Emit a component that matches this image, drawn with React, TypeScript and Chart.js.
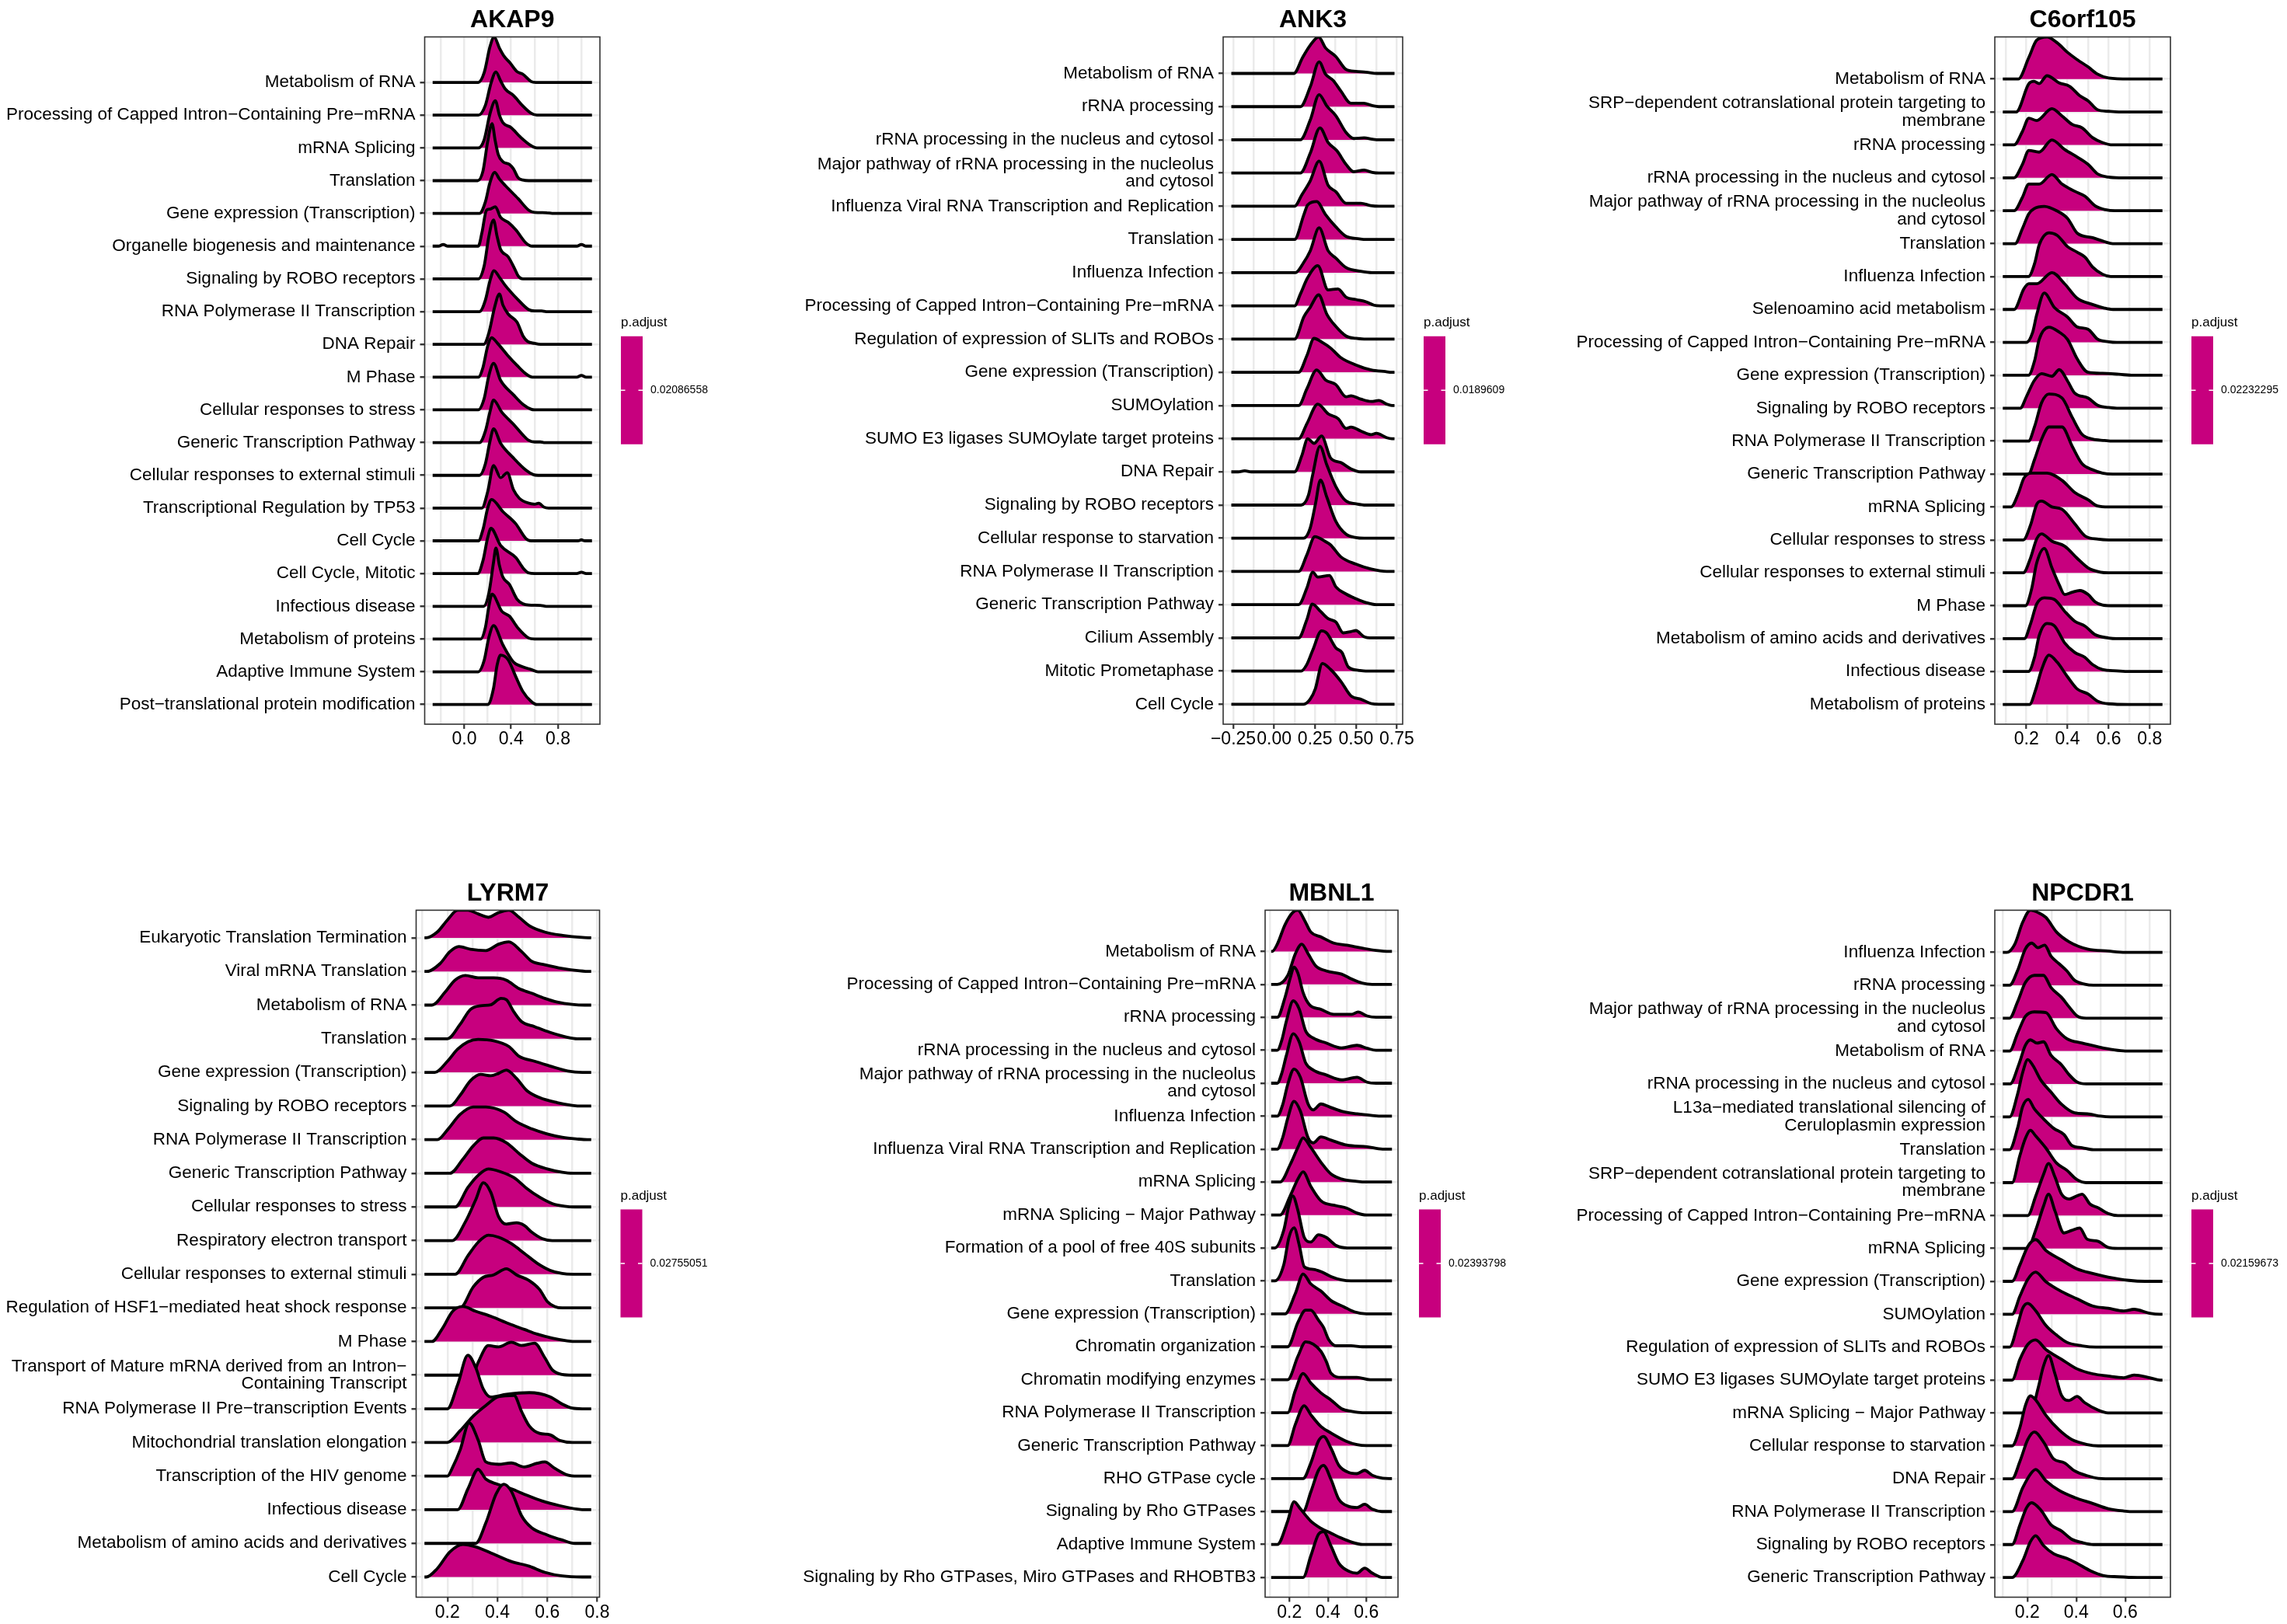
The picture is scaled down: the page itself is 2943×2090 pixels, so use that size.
import React, { useEffect, useRef } from "react";
import { Chart, registerables } from "chart.js";
Chart.register(...registerables);

const FILL = "#C7007E";
const FONT = "'Liberation Sans', Arial, Helvetica, sans-serif";

// ================= AKAP9 =================
const AKAP9_labels = [
  "Metabolism of RNA",
  "Processing of Capped Intron−Containing Pre−mRNA",
  "mRNA Splicing",
  "Translation",
  "Gene expression (Transcription)",
  "Organelle biogenesis and maintenance",
  "Signaling by ROBO receptors",
  "RNA Polymerase II Transcription",
  "DNA Repair",
  "M Phase",
  "Cellular responses to stress",
  "Generic Transcription Pathway",
  "Cellular responses to external stimuli",
  "Transcriptional Regulation by TP53",
  "Cell Cycle",
  "Cell Cycle, Mitotic",
  "Infectious disease",
  "Metabolism of proteins",
  "Adaptive Immune System",
  "Post−translational protein modification",
];
const AKAP9_range = [-0.27, 1.09];
const AKAP9_xBreaks = [-0.2, 0, 0.2, 0.4, 0.6, 0.8, 1.0];
const AKAP9_xTicks = [0, 0.4, 0.8];
const AKAP9_xTickLabels = ["0.0", "0.4", "0.8"];
const AKAP9_padj = "0.02086558";
const AKAP9_ridges = [
  [[0.12,0],[0.17,0.3],[0.22,1.1],[0.255,1.39],[0.3,1.05],[0.34,0.8],[0.39,0.6],[0.45,0.33],[0.5,0.25],[0.57,0.03],[0.61,0]],
  [[0.12,0],[0.18,0.3],[0.23,1.0],[0.27,1.32],[0.31,1.05],[0.35,0.8],[0.42,0.6],[0.5,0.28],[0.57,0.06],[0.62,0]],
  [[0.12,0],[0.17,0.25],[0.22,1.05],[0.265,1.44],[0.3,1.0],[0.33,0.77],[0.4,0.62],[0.48,0.33],[0.57,0.07],[0.62,0]],
  [[0.115,0],[0.16,0.3],[0.2,1.2],[0.237,1.74],[0.265,1.2],[0.29,0.8],[0.33,0.58],[0.385,0.5],[0.42,0.36],[0.46,0.09],[0.5,0.02],[0.55,0]],
  [[0.13,0],[0.18,0.35],[0.22,0.95],[0.26,1.25],[0.3,1.05],[0.35,0.85],[0.46,0.45],[0.55,0.1],[0.6,0.03],[0.7,0.02],[0.75,0]],
  [[-0.22,0],[-0.18,0.05],[-0.14,0],[0.12,0],[0.15,0.4],[0.19,1.1],[0.22,1.13],[0.265,1.2],[0.31,0.88],[0.374,0.73],[0.44,0.5],[0.526,0.1],[0.58,0],[0.96,0],[1.0,0.05],[1.04,0]],
  [[0.12,0],[0.17,0.4],[0.21,1.3],[0.25,1.8],[0.28,1.3],[0.31,0.9],[0.374,0.68],[0.43,0.31],[0.46,0.09],[0.5,0]],
  [[0.13,0],[0.18,0.35],[0.22,0.95],[0.254,1.25],[0.3,1.05],[0.35,0.8],[0.46,0.36],[0.55,0.06],[0.6,0.02],[0.66,0.02],[0.7,0]],
  [[0.165,0],[0.21,0.35],[0.26,1.15],[0.3,1.54],[0.33,1.2],[0.374,0.93],[0.45,0.68],[0.504,0.24],[0.54,0.09],[0.6,0.03],[0.65,0]],
  [[0.12,0],[0.16,0.3],[0.2,0.95],[0.233,1.2],[0.287,1.02],[0.374,0.65],[0.45,0.36],[0.526,0.1],[0.58,0],[0.96,0],[1.0,0.05],[1.04,0]],
  [[0.12,0],[0.17,0.35],[0.21,1.05],[0.25,1.42],[0.31,0.9],[0.42,0.46],[0.504,0.16],[0.57,0.02],[0.6,0]],
  [[0.13,0],[0.18,0.35],[0.22,0.95],[0.25,1.3],[0.32,0.93],[0.42,0.56],[0.504,0.22],[0.55,0.07],[0.6,0.02],[0.65,0.02],[0.68,0]],
  [[0.13,0],[0.18,0.35],[0.22,1.05],[0.25,1.42],[0.31,0.98],[0.42,0.53],[0.526,0.16],[0.59,0.02],[0.63,0]],
  [[0.15,0],[0.2,0.5],[0.25,1.3],[0.31,0.93],[0.367,1.08],[0.42,0.56],[0.47,0.3],[0.55,0.15],[0.6,0.12],[0.635,0.15],[0.68,0.03],[0.72,0]],
  [[0.12,0],[0.16,0.35],[0.2,1.0],[0.233,1.26],[0.33,0.89],[0.44,0.52],[0.526,0.07],[0.57,0],[0.97,0],[1.0,0.03],[1.03,0]],
  [[0.115,0],[0.16,0.4],[0.2,1.1],[0.228,1.38],[0.31,0.86],[0.44,0.49],[0.504,0.16],[0.55,0.02],[0.6,0],[0.96,0],[1.0,0.04],[1.04,0]],
  [[0.165,0],[0.21,0.4],[0.25,1.35],[0.27,1.78],[0.3,1.25],[0.33,0.89],[0.385,0.67],[0.45,0.22],[0.5,0.08],[0.55,0.04],[0.65,0.03],[0.7,0]],
  [[0.14,0],[0.18,0.35],[0.21,1.0],[0.237,1.37],[0.32,0.85],[0.385,0.7],[0.46,0.33],[0.55,0.03],[0.6,0]],
  [[0.12,0],[0.17,0.35],[0.21,1.05],[0.25,1.41],[0.33,0.82],[0.42,0.3],[0.5,0.15],[0.57,0.07],[0.63,0]],
  [[0.2,0],[0.25,0.5],[0.28,1.2],[0.31,1.51],[0.374,1.37],[0.44,0.85],[0.5,0.4],[0.57,0.1],[0.62,0]],
];

// ================= ANK3 =================
const ANK3_labels = [
  "Metabolism of RNA",
  "rRNA processing",
  "rRNA processing in the nucleus and cytosol",
  "Major pathway of rRNA processing in the nucleolus\nand cytosol",
  "Influenza Viral RNA Transcription and Replication",
  "Translation",
  "Influenza Infection",
  "Processing of Capped Intron−Containing Pre−mRNA",
  "Regulation of expression of SLITs and ROBOs",
  "Gene expression (Transcription)",
  "SUMOylation",
  "SUMO E3 ligases SUMOylate target proteins",
  "DNA Repair",
  "Signaling by ROBO receptors",
  "Cellular response to starvation",
  "RNA Polymerase II Transcription",
  "Generic Transcription Pathway",
  "Cilium Assembly",
  "Mitotic Prometaphase",
  "Cell Cycle",
];
const ANK3_range = [-0.262, 0.736];
const ANK3_xBreaks = [-0.25, -0.125, 0, 0.125, 0.25, 0.375, 0.5, 0.625, 0.75];
const ANK3_xTicks = [-0.25, 0, 0.25, 0.5, 0.75];
const ANK3_xTickLabels = ["−0.25", "0.00", "0.25", "0.50", "0.75"];
const ANK3_padj = "0.0189609";
const ANK3_ridges = [
  [[0.12,0],[0.174,0.48],[0.221,0.85],[0.272,1.1],[0.314,0.77],[0.377,0.51],[0.44,0.12],[0.5,0.06],[0.56,0.04],[0.63,0]],
  [[0.16,0],[0.221,0.6],[0.275,1.35],[0.314,0.98],[0.361,0.79],[0.408,0.47],[0.47,0.1],[0.548,0.1],[0.6,0.03],[0.64,0]],
  [[0.16,0],[0.221,0.6],[0.275,1.36],[0.322,1.02],[0.377,0.73],[0.44,0.22],[0.486,0.04],[0.55,0.06],[0.6,0.02],[0.64,0]],
  [[0.16,0],[0.221,0.6],[0.28,1.36],[0.33,0.92],[0.384,0.67],[0.44,0.26],[0.486,0.04],[0.55,0.09],[0.6,0.02],[0.64,0]],
  [[0.125,0],[0.17,0.35],[0.221,0.77],[0.275,1.36],[0.33,0.63],[0.377,0.44],[0.44,0.09],[0.53,0.09],[0.59,0.02],[0.64,0]],
  [[0.125,0],[0.182,0.75],[0.205,1.04],[0.26,1.14],[0.314,0.75],[0.377,0.38],[0.44,0.09],[0.52,0.02],[0.56,0]],
  [[0.13,0],[0.18,0.3],[0.221,0.66],[0.275,1.35],[0.33,0.66],[0.377,0.44],[0.44,0.15],[0.53,0.04],[0.6,0]],
  [[0.125,0],[0.16,0.35],[0.205,0.85],[0.267,1.21],[0.33,0.48],[0.39,0.51],[0.44,0.26],[0.5,0.19],[0.563,0.12],[0.61,0.02],[0.65,0]],
  [[0.125,0],[0.182,0.67],[0.221,0.96],[0.272,1.33],[0.322,0.75],[0.377,0.38],[0.44,0.09],[0.5,0.02],[0.55,0]],
  [[0.15,0],[0.2,0.5],[0.244,1.02],[0.3,0.88],[0.345,0.73],[0.408,0.44],[0.5,0.22],[0.594,0.07],[0.68,0.02],[0.72,0]],
  [[0.15,0],[0.2,0.5],[0.26,1.07],[0.314,0.77],[0.377,0.63],[0.44,0.26],[0.47,0.29],[0.53,0.19],[0.594,0.12],[0.64,0.15],[0.688,0.04],[0.72,0]],
  [[0.15,0],[0.2,0.45],[0.267,1.04],[0.33,0.75],[0.392,0.6],[0.44,0.31],[0.47,0.35],[0.53,0.23],[0.594,0.12],[0.625,0.16],[0.688,0.03],[0.72,0]],
  [[-0.22,0],[-0.18,0.03],[-0.14,0],[0.125,0],[0.17,0.5],[0.205,1.0],[0.244,0.86],[0.29,1.08],[0.345,0.42],[0.408,0.28],[0.47,0.09],[0.53,0]],
  [[0.165,0],[0.21,0.3],[0.236,0.92],[0.28,1.77],[0.322,1.21],[0.377,0.56],[0.44,0.12],[0.5,0.04],[0.56,0]],
  [[0.18,0],[0.22,0.3],[0.252,1.02],[0.283,1.75],[0.322,1.24],[0.377,0.51],[0.44,0.12],[0.5,0.02],[0.55,0]],
  [[0.15,0],[0.2,0.5],[0.249,1.05],[0.314,0.9],[0.345,0.8],[0.408,0.44],[0.5,0.22],[0.594,0.07],[0.688,0]],
  [[0.15,0],[0.2,0.5],[0.236,0.98],[0.267,0.83],[0.338,0.88],[0.377,0.54],[0.44,0.32],[0.5,0.18],[0.563,0.06],[0.625,0]],
  [[0.15,0],[0.2,0.55],[0.233,1.02],[0.283,0.8],[0.33,0.58],[0.377,0.48],[0.423,0.15],[0.47,0.19],[0.5,0.22],[0.548,0.04],[0.6,0]],
  [[0.165,0],[0.2,0.2],[0.236,0.63],[0.29,1.21],[0.322,1.14],[0.377,0.7],[0.415,0.56],[0.454,0.12],[0.52,0.02],[0.56,0]],
  [[0.18,0],[0.22,0.15],[0.252,0.47],[0.295,1.23],[0.345,1.05],[0.408,0.69],[0.47,0.25],[0.532,0.15],[0.594,0.02],[0.64,0]],
];

// ================= C6orf105 =================
const C6_labels = [
  "Metabolism of RNA",
  "SRP−dependent cotranslational protein targeting to\nmembrane",
  "rRNA processing",
  "rRNA processing in the nucleus and cytosol",
  "Major pathway of rRNA processing in the nucleolus\nand cytosol",
  "Translation",
  "Influenza Infection",
  "Selenoamino acid metabolism",
  "Processing of Capped Intron−Containing Pre−mRNA",
  "Gene expression (Transcription)",
  "Signaling by ROBO receptors",
  "RNA Polymerase II Transcription",
  "Generic Transcription Pathway",
  "mRNA Splicing",
  "Cellular responses to stress",
  "Cellular responses to external stimuli",
  "M Phase",
  "Metabolism of amino acids and derivatives",
  "Infectious disease",
  "Metabolism of proteins",
];
const C6_range = [0.085, 0.862];
const C6_xBreaks = [0.1, 0.2, 0.3, 0.4, 0.5, 0.6, 0.7, 0.8];
const C6_xTicks = [0.2, 0.4, 0.6, 0.8];
const C6_xTickLabels = ["0.2", "0.4", "0.6", "0.8"];
const C6_padj = "0.02232295";
const C6_ridges = [
  [[0.16,0],[0.212,0.66],[0.25,1.18],[0.3,1.28],[0.35,1.1],[0.4,0.81],[0.447,0.59],[0.5,0.37],[0.546,0.15],[0.6,0.03],[0.7,0]],
  [[0.15,0],[0.212,0.86],[0.237,0.93],[0.262,0.86],[0.3,1.1],[0.36,0.88],[0.41,0.78],[0.46,0.49],[0.5,0.34],[0.546,0.07],[0.6,0.02],[0.65,0]],
  [[0.14,0],[0.18,0.4],[0.212,0.81],[0.25,0.74],[0.324,1.1],[0.373,0.88],[0.423,0.62],[0.47,0.52],[0.522,0.22],[0.57,0.07],[0.62,0]],
  [[0.14,0],[0.18,0.4],[0.212,0.83],[0.262,0.78],[0.324,1.15],[0.386,0.86],[0.447,0.63],[0.5,0.41],[0.546,0.12],[0.6,0.02],[0.65,0]],
  [[0.14,0],[0.18,0.4],[0.212,0.81],[0.262,0.81],[0.324,1.1],[0.373,0.81],[0.435,0.59],[0.485,0.44],[0.534,0.15],[0.585,0.03],[0.63,0]],
  [[0.145,0],[0.18,0.45],[0.212,0.91],[0.237,1.06],[0.287,1.13],[0.35,0.99],[0.4,0.77],[0.447,0.32],[0.522,0.18],[0.58,0.06],[0.62,0]],
  [[0.21,0],[0.24,0.4],[0.262,0.96],[0.31,1.33],[0.35,1.25],[0.4,0.91],[0.447,0.74],[0.485,0.59],[0.522,0.29],[0.57,0.07],[0.61,0]],
  [[0.14,0],[0.188,0.63],[0.212,0.78],[0.25,0.78],[0.324,1.12],[0.386,0.78],[0.447,0.34],[0.522,0.15],[0.58,0.04],[0.62,0]],
  [[0.2,0],[0.23,0.3],[0.25,0.84],[0.287,1.5],[0.336,1.06],[0.4,0.77],[0.447,0.47],[0.5,0.4],[0.546,0.1],[0.6,0.02],[0.64,0]],
  [[0.21,0],[0.24,0.45],[0.262,1.09],[0.31,1.46],[0.36,1.31],[0.4,1.09],[0.447,0.5],[0.5,0.09],[0.57,0.06],[0.65,0.03],[0.72,0]],
  [[0.17,0],[0.2,0.35],[0.237,0.83],[0.274,1.05],[0.324,0.97],[0.36,1.17],[0.4,0.83],[0.435,0.46],[0.5,0.31],[0.546,0.09],[0.6,0.02],[0.64,0]],
  [[0.21,0],[0.24,0.45],[0.274,1.17],[0.31,1.43],[0.373,1.31],[0.423,0.72],[0.47,0.21],[0.522,0.06],[0.58,0.02],[0.62,0]],
  [[0.21,0],[0.24,0.45],[0.274,1.06],[0.31,1.43],[0.373,1.43],[0.423,0.84],[0.47,0.32],[0.522,0.13],[0.57,0.03],[0.62,0]],
  [[0.125,0],[0.16,0.4],[0.188,0.88],[0.225,1.03],[0.3,1.03],[0.373,0.81],[0.435,0.44],[0.5,0.22],[0.546,0.03],[0.6,0]],
  [[0.185,0],[0.22,0.45],[0.25,1.08],[0.274,1.18],[0.324,1.0],[0.373,0.93],[0.435,0.49],[0.485,0.12],[0.55,0.02],[0.6,0]],
  [[0.185,0],[0.22,0.45],[0.25,1.03],[0.274,1.18],[0.324,0.96],[0.386,0.81],[0.447,0.44],[0.5,0.15],[0.56,0.02],[0.6,0]],
  [[0.195,0],[0.225,0.5],[0.25,1.3],[0.287,1.74],[0.324,1.15],[0.36,0.63],[0.386,0.34],[0.423,0.41],[0.46,0.46],[0.5,0.34],[0.534,0.12],[0.57,0.02],[0.61,0]],
  [[0.19,0],[0.22,0.45],[0.25,1.05],[0.287,1.24],[0.336,1.19],[0.386,0.83],[0.435,0.53],[0.485,0.38],[0.534,0.12],[0.6,0.02],[0.64,0]],
  [[0.21,0],[0.24,0.45],[0.262,1.09],[0.3,1.46],[0.336,1.39],[0.386,0.87],[0.435,0.58],[0.485,0.43],[0.522,0.21],[0.57,0.06],[0.64,0.02],[0.7,0]],
  [[0.215,0],[0.245,0.45],[0.274,1.06],[0.31,1.5],[0.35,1.28],[0.4,0.84],[0.447,0.47],[0.5,0.32],[0.546,0.1],[0.6,0.02],[0.7,0]],
];

// ================= LYRM7 =================
const LYRM7_labels = [
  "Eukaryotic Translation Termination",
  "Viral mRNA Translation",
  "Metabolism of RNA",
  "Translation",
  "Gene expression (Transcription)",
  "Signaling by ROBO receptors",
  "RNA Polymerase II Transcription",
  "Generic Transcription Pathway",
  "Cellular responses to stress",
  "Respiratory electron transport",
  "Cellular responses to external stimuli",
  "Regulation of HSF1−mediated heat shock response",
  "M Phase",
  "Transport of Mature mRNA derived from an Intron−\nContaining Transcript",
  "RNA Polymerase II Pre−transcription Events",
  "Mitochondrial translation elongation",
  "Transcription of the HIV genome",
  "Infectious disease",
  "Metabolism of amino acids and derivatives",
  "Cell Cycle",
];
const LYRM7_range = [0.108, 0.776];
const LYRM7_xBreaks = [0.1, 0.2, 0.3, 0.4, 0.5, 0.6, 0.7, 0.8];
const LYRM7_xTicks = [0.2, 0.4, 0.6, 0.8];
const LYRM7_xTickLabels = ["0.2", "0.4", "0.6", "0.8"];
const LYRM7_padj = "0.02755051";
const LYRM7_ridges = [
  [[0.115,0],[0.159,0.17],[0.2,0.53],[0.241,0.82],[0.282,0.82],[0.323,0.71],[0.364,0.61],[0.405,0.75],[0.446,0.82],[0.487,0.61],[0.528,0.36],[0.59,0.17],[0.662,0.07],[0.74,0.01]],
  [[0.118,0],[0.17,0.23],[0.21,0.59],[0.246,0.74],[0.292,0.66],[0.354,0.62],[0.405,0.81],[0.446,0.88],[0.497,0.59],[0.538,0.3],[0.59,0.2],[0.66,0.09],[0.73,0.02],[0.77,0]],
  [[0.138,0],[0.19,0.38],[0.23,0.74],[0.272,0.88],[0.323,0.81],[0.385,0.81],[0.436,0.74],[0.487,0.49],[0.538,0.35],[0.59,0.2],[0.64,0.09],[0.7,0.02],[0.75,0]],
  [[0.2,0],[0.251,0.43],[0.292,0.87],[0.333,0.98],[0.374,1.01],[0.415,1.2],[0.436,1.16],[0.467,0.79],[0.497,0.51],[0.549,0.36],[0.61,0.19],[0.682,0.04],[0.72,0]],
  [[0.149,0],[0.2,0.33],[0.241,0.69],[0.282,0.91],[0.323,0.98],[0.385,0.94],[0.446,0.77],[0.487,0.48],[0.549,0.33],[0.61,0.19],[0.682,0.04],[0.74,0]],
  [[0.21,0],[0.251,0.32],[0.292,0.75],[0.333,0.94],[0.374,0.9],[0.405,0.97],[0.436,1.07],[0.477,0.82],[0.518,0.46],[0.569,0.25],[0.64,0.1],[0.7,0.02],[0.74,0]],
  [[0.16,0],[0.2,0.29],[0.251,0.75],[0.303,0.97],[0.354,0.97],[0.426,0.82],[0.477,0.53],[0.538,0.32],[0.6,0.17],[0.66,0.07],[0.72,0.02],[0.76,0]],
  [[0.21,0],[0.262,0.42],[0.303,0.81],[0.344,1.05],[0.385,1.05],[0.436,0.91],[0.487,0.59],[0.538,0.3],[0.6,0.13],[0.66,0.03],[0.7,0]],
  [[0.231,0],[0.282,0.58],[0.323,0.94],[0.364,1.13],[0.415,1.04],[0.467,0.87],[0.518,0.55],[0.569,0.29],[0.62,0.1],[0.67,0.02],[0.71,0]],
  [[0.22,0],[0.272,0.56],[0.313,1.21],[0.344,1.72],[0.374,1.43],[0.405,0.71],[0.436,0.49],[0.477,0.53],[0.508,0.45],[0.538,0.25],[0.579,0.06],[0.62,0]],
  [[0.231,0],[0.282,0.55],[0.323,0.95],[0.364,1.16],[0.405,1.1],[0.456,0.91],[0.508,0.62],[0.559,0.33],[0.61,0.12],[0.66,0.02],[0.7,0]],
  [[0.251,0],[0.303,0.62],[0.344,0.91],[0.385,0.98],[0.436,1.16],[0.477,0.98],[0.528,0.81],[0.569,0.55],[0.6,0.19],[0.63,0.04],[0.66,0]],
  [[0.138,0],[0.18,0.39],[0.221,0.9],[0.262,1.04],[0.313,0.9],[0.374,0.75],[0.446,0.53],[0.508,0.36],[0.559,0.22],[0.62,0.1],[0.68,0.02],[0.72,0]],
  [[0.3,0],[0.323,0.38],[0.364,0.88],[0.405,0.84],[0.456,0.98],[0.497,0.88],[0.549,0.95],[0.59,0.52],[0.62,0.16],[0.66,0.02],[0.7,0]],
  [[0.2,0],[0.241,0.72],[0.282,1.59],[0.313,1.23],[0.344,0.58],[0.374,0.35],[0.436,0.43],[0.528,0.48],[0.61,0.36],[0.66,0.14],[0.7,0.02],[0.74,0]],
  [[0.2,0],[0.251,0.35],[0.303,0.78],[0.354,1.1],[0.405,1.36],[0.467,1.4],[0.497,0.92],[0.528,0.49],[0.569,0.27],[0.61,0.23],[0.65,0.06],[0.7,0]],
  [[0.2,0],[0.22,0.25],[0.251,0.78],[0.287,1.58],[0.323,1.07],[0.354,0.42],[0.405,0.35],[0.456,0.39],[0.508,0.27],[0.559,0.38],[0.59,0.42],[0.63,0.23],[0.682,0.03],[0.72,0]],
  [[0.241,0],[0.282,0.62],[0.323,1.2],[0.354,0.91],[0.395,0.77],[0.456,0.62],[0.518,0.43],[0.579,0.26],[0.65,0.12],[0.72,0.02],[0.76,0]],
  [[0.313,0],[0.354,0.61],[0.395,1.47],[0.426,1.76],[0.456,1.55],[0.497,0.82],[0.538,0.46],[0.6,0.25],[0.66,0.1],[0.71,0]],
  [[0.115,0],[0.159,0.25],[0.21,0.75],[0.262,0.97],[0.313,0.9],[0.385,0.68],[0.456,0.46],[0.528,0.32],[0.59,0.14],[0.66,0.03],[0.74,0]],
];

// ================= MBNL1 =================
const MBNL1_labels = [
  "Metabolism of RNA",
  "Processing of Capped Intron−Containing Pre−mRNA",
  "rRNA processing",
  "rRNA processing in the nucleus and cytosol",
  "Major pathway of rRNA processing in the nucleolus\nand cytosol",
  "Influenza Infection",
  "Influenza Viral RNA Transcription and Replication",
  "mRNA Splicing",
  "mRNA Splicing − Major Pathway",
  "Formation of a pool of free 40S subunits",
  "Translation",
  "Gene expression (Transcription)",
  "Chromatin organization",
  "Chromatin modifying enzymes",
  "RNA Polymerase II Transcription",
  "Generic Transcription Pathway",
  "RHO GTPase cycle",
  "Signaling by Rho GTPases",
  "Adaptive Immune System",
  "Signaling by Rho GTPases, Miro GTPases and RHOBTB3",
];
const MBNL1_range = [0.105, 0.733];
const MBNL1_xBreaks = [0.1, 0.2, 0.3, 0.4, 0.5, 0.6, 0.7];
const MBNL1_xTicks = [0.2, 0.4, 0.6];
const MBNL1_xTickLabels = ["0.2", "0.4", "0.6"];
const MBNL1_padj = "0.02393798";
const MBNL1_ridges = [
  [[0.11,0],[0.137,0.22],[0.177,0.81],[0.217,1.18],[0.244,1.25],[0.277,0.96],[0.311,0.59],[0.364,0.44],[0.431,0.25],[0.497,0.19],[0.577,0.1],[0.65,0.03],[0.72,0]],
  [[0.137,0],[0.191,0.27],[0.231,0.93],[0.264,1.22],[0.297,0.93],[0.337,0.56],[0.391,0.41],[0.471,0.31],[0.524,0.16],[0.577,0.04],[0.63,0]],
  [[0.137,0],[0.177,0.6],[0.204,1.19],[0.224,1.52],[0.244,1.34],[0.271,0.75],[0.304,0.38],[0.364,0.24],[0.431,0.09],[0.524,0.09],[0.557,0.16],[0.604,0.04],[0.65,0]],
  [[0.137,0],[0.16,0.3],[0.184,0.88],[0.22,1.5],[0.251,1.25],[0.284,0.59],[0.324,0.37],[0.391,0.22],[0.471,0.07],[0.551,0.15],[0.604,0.06],[0.65,0]],
  [[0.137,0],[0.16,0.3],[0.184,0.84],[0.22,1.5],[0.251,1.25],[0.284,0.62],[0.324,0.4],[0.391,0.25],[0.471,0.1],[0.551,0.18],[0.604,0.03],[0.65,0]],
  [[0.137,0],[0.165,0.35],[0.191,0.96],[0.224,1.43],[0.257,1.18],[0.297,0.37],[0.324,0.19],[0.364,0.37],[0.404,0.29],[0.471,0.15],[0.551,0.07],[0.631,0.02],[0.68,0]],
  [[0.137,0],[0.165,0.35],[0.191,0.93],[0.224,1.45],[0.257,1.15],[0.297,0.34],[0.324,0.19],[0.364,0.37],[0.417,0.27],[0.497,0.12],[0.604,0.07],[0.684,0]],
  [[0.151,0],[0.204,0.53],[0.244,1.05],[0.271,1.34],[0.311,1.05],[0.364,0.6],[0.417,0.24],[0.471,0.09],[0.551,0.02],[0.6,0]],
  [[0.151,0],[0.204,0.58],[0.244,1.09],[0.271,1.31],[0.311,0.87],[0.364,0.43],[0.444,0.28],[0.497,0.21],[0.551,0.06],[0.6,0]],
  [[0.124,0],[0.171,0.55],[0.197,1.28],[0.217,1.58],[0.244,1.14],[0.277,0.32],[0.311,0.18],[0.351,0.4],[0.391,0.32],[0.444,0.07],[0.5,0]],
  [[0.124,0],[0.171,0.5],[0.197,1.31],[0.224,1.61],[0.251,1.09],[0.277,0.43],[0.324,0.35],[0.364,0.28],[0.417,0.13],[0.471,0.03],[0.52,0]],
  [[0.177,0],[0.231,0.62],[0.271,1.21],[0.311,0.91],[0.364,0.69],[0.417,0.4],[0.484,0.21],[0.537,0.06],[0.6,0]],
  [[0.191,0],[0.244,0.74],[0.284,1.11],[0.311,1.11],[0.351,0.81],[0.377,0.59],[0.404,0.22],[0.444,0.03],[0.52,0.03],[0.58,0]],
  [[0.191,0],[0.244,0.71],[0.284,1.15],[0.324,1.08],[0.364,0.86],[0.391,0.56],[0.417,0.19],[0.471,0.07],[0.551,0.07],[0.62,0]],
  [[0.191,0],[0.231,0.68],[0.271,1.19],[0.311,0.9],[0.364,0.6],[0.417,0.38],[0.471,0.12],[0.524,0.04],[0.58,0]],
  [[0.191,0],[0.231,0.65],[0.277,1.21],[0.311,0.94],[0.364,0.58],[0.417,0.38],[0.497,0.13],[0.551,0.03],[0.6,0]],
  [[0.271,0],[0.311,0.47],[0.351,1.14],[0.377,1.28],[0.417,0.91],[0.457,0.4],[0.511,0.18],[0.551,0.15],[0.591,0.25],[0.631,0.1],[0.684,0.01],[0.72,0]],
  [[0.271,0],[0.311,0.59],[0.351,1.25],[0.377,1.4],[0.417,0.96],[0.457,0.37],[0.511,0.15],[0.551,0.12],[0.591,0.22],[0.631,0.07],[0.68,0]],
  [[0.137,0],[0.191,0.71],[0.224,1.3],[0.257,1.08],[0.311,0.71],[0.364,0.49],[0.417,0.34],[0.471,0.19],[0.524,0.07],[0.58,0]],
  [[0.271,0],[0.311,0.65],[0.351,1.31],[0.377,1.39],[0.417,0.94],[0.457,0.43],[0.511,0.18],[0.551,0.13],[0.591,0.28],[0.631,0.13],[0.684,0]],
];

// ================= NPCDR1 =================
const NPCDR1_labels = [
  "Influenza Infection",
  "rRNA processing",
  "Major pathway of rRNA processing in the nucleolus\nand cytosol",
  "Metabolism of RNA",
  "rRNA processing in the nucleus and cytosol",
  "L13a−mediated translational silencing of\nCeruloplasmin expression",
  "Translation",
  "SRP−dependent cotranslational protein targeting to\nmembrane",
  "Processing of Capped Intron−Containing Pre−mRNA",
  "mRNA Splicing",
  "Gene expression (Transcription)",
  "SUMOylation",
  "Regulation of expression of SLITs and ROBOs",
  "SUMO E3 ligases SUMOylate target proteins",
  "mRNA Splicing − Major Pathway",
  "Cellular response to starvation",
  "DNA Repair",
  "RNA Polymerase II Transcription",
  "Signaling by ROBO receptors",
  "Generic Transcription Pathway",
];
const NPCDR1_range = [0.1, 0.752];
const NPCDR1_xBreaks = [0.1, 0.2, 0.3, 0.4, 0.5, 0.6, 0.7];
const NPCDR1_xTicks = [0.2, 0.4, 0.6];
const NPCDR1_xTickLabels = ["0.2", "0.4", "0.6"];
const NPCDR1_padj = "0.02159673";
const NPCDR1_ridges = [
  [[0.117,0],[0.149,0.25],[0.181,0.91],[0.213,1.28],[0.244,1.21],[0.276,1.06],[0.319,0.62],[0.371,0.32],[0.445,0.1],[0.53,0.04],[0.6,0]],
  [[0.128,0],[0.16,0.44],[0.192,1.1],[0.218,1.28],[0.244,1.14],[0.271,1.22],[0.297,0.88],[0.329,0.66],[0.361,0.44],[0.393,0.15],[0.435,0.03],[0.47,0]],
  [[0.128,0],[0.16,0.49],[0.192,1.08],[0.229,1.3],[0.266,1.3],[0.297,0.93],[0.34,0.63],[0.371,0.34],[0.403,0.07],[0.44,0]],
  [[0.128,0],[0.16,0.53],[0.192,1.05],[0.229,1.19],[0.276,1.17],[0.319,0.68],[0.361,0.38],[0.424,0.24],[0.488,0.13],[0.55,0.04],[0.6,0]],
  [[0.13,0],[0.165,0.58],[0.192,1.17],[0.213,1.34],[0.239,1.24],[0.266,1.28],[0.297,0.87],[0.34,0.58],[0.371,0.28],[0.403,0.06],[0.44,0]],
  [[0.128,0],[0.16,0.68],[0.181,1.34],[0.202,1.74],[0.223,1.56],[0.255,1.12],[0.297,0.75],[0.34,0.38],[0.393,0.12],[0.445,0.09],[0.5,0.02],[0.54,0]],
  [[0.128,0],[0.16,0.65],[0.181,1.31],[0.204,1.53],[0.229,1.24],[0.266,0.94],[0.308,0.65],[0.35,0.46],[0.382,0.13],[0.424,0.06],[0.47,0]],
  [[0.138,0],[0.17,0.83],[0.192,1.34],[0.213,1.59],[0.234,1.42],[0.276,1.05],[0.319,0.6],[0.361,0.38],[0.403,0.09],[0.44,0]],
  [[0.202,0],[0.234,0.58],[0.266,1.24],[0.287,1.58],[0.313,1.17],[0.34,0.65],[0.371,0.5],[0.403,0.6],[0.424,0.65],[0.456,0.35],[0.488,0.24],[0.53,0.06],[0.57,0]],
  [[0.202,0],[0.234,0.55],[0.266,1.28],[0.287,1.65],[0.313,1.14],[0.35,0.47],[0.382,0.55],[0.414,0.62],[0.445,0.28],[0.488,0.22],[0.53,0.03],[0.57,0]],
  [[0.138,0],[0.17,0.5],[0.202,1.06],[0.234,1.27],[0.276,0.94],[0.34,0.65],[0.403,0.38],[0.467,0.24],[0.53,0.13],[0.615,0.03],[0.68,0]],
  [[0.138,0],[0.17,0.55],[0.202,1.06],[0.234,1.28],[0.276,0.99],[0.34,0.69],[0.403,0.47],[0.467,0.25],[0.53,0.18],[0.594,0.1],[0.636,0.15],[0.7,0.03],[0.742,0]],
  [[0.128,0],[0.16,0.66],[0.181,1.18],[0.202,1.33],[0.234,1.11],[0.276,0.66],[0.319,0.37],[0.361,0.15],[0.424,0.04],[0.48,0]],
  [[0.138,0],[0.17,0.63],[0.202,1.08],[0.234,1.22],[0.276,0.93],[0.34,0.63],[0.403,0.34],[0.467,0.19],[0.53,0.12],[0.594,0.07],[0.636,0.15],[0.7,0.07],[0.742,0]],
  [[0.213,0],[0.244,0.75],[0.266,1.42],[0.287,1.74],[0.313,1.19],[0.34,0.53],[0.371,0.38],[0.403,0.5],[0.435,0.31],[0.488,0.09],[0.53,0]],
  [[0.138,0],[0.17,0.56],[0.192,1.22],[0.213,1.52],[0.234,1.4],[0.276,0.93],[0.329,0.49],[0.382,0.19],[0.445,0.04],[0.49,0]],
  [[0.138,0],[0.17,0.53],[0.202,1.19],[0.229,1.42],[0.266,1.12],[0.308,0.6],[0.35,0.49],[0.393,0.24],[0.445,0.09],[0.49,0.01],[0.52,0]],
  [[0.138,0],[0.181,0.72],[0.213,1.14],[0.234,1.28],[0.276,0.94],[0.329,0.65],[0.393,0.43],[0.467,0.25],[0.53,0.09],[0.594,0.02],[0.64,0]],
  [[0.138,0],[0.17,0.6],[0.197,1.12],[0.218,1.27],[0.255,1.05],[0.297,0.6],[0.34,0.41],[0.382,0.16],[0.424,0.06],[0.47,0]],
  [[0.138,0],[0.181,0.5],[0.213,1.09],[0.234,1.27],[0.266,0.97],[0.308,0.72],[0.361,0.58],[0.403,0.43],[0.456,0.21],[0.509,0.06],[0.572,0.02],[0.65,0]],
];

// ================= layout (positions only) =================
const PAGE_W = 2943;
const PAGE_H = 2090;
const COL_W = 981;
const ROW_CANVAS_H = 1045;
const XAXIS_H = 34;

const PANELS = [
  { title: "AKAP9", labels: AKAP9_labels, ridges: AKAP9_ridges, range: AKAP9_range, xBreaks: AKAP9_xBreaks, xTicks: AKAP9_xTicks, xTickLabels: AKAP9_xTickLabels, padj: AKAP9_padj,
    colLeft: 0, canvasTop: 0, plotLeft: 546.5, plotRight: 772, plotTop: 47.5, plotBottom: 932 },
  { title: "ANK3", labels: ANK3_labels, ridges: ANK3_ridges, range: ANK3_range, xBreaks: ANK3_xBreaks, xTicks: ANK3_xTicks, xTickLabels: ANK3_xTickLabels, padj: ANK3_padj,
    colLeft: 981, canvasTop: 0, plotLeft: 1574, plotRight: 1805, plotTop: 47.5, plotBottom: 932 },
  { title: "C6orf105", labels: C6_labels, ridges: C6_ridges, range: C6_range, xBreaks: C6_xBreaks, xTicks: C6_xTicks, xTickLabels: C6_xTickLabels, padj: C6_padj,
    colLeft: 1962, canvasTop: 0, plotLeft: 2567, plotRight: 2793, plotTop: 47.5, plotBottom: 932 },
  { title: "LYRM7", labels: LYRM7_labels, ridges: LYRM7_ridges, range: LYRM7_range, xBreaks: LYRM7_xBreaks, xTicks: LYRM7_xTicks, xTickLabels: LYRM7_xTickLabels, padj: LYRM7_padj,
    colLeft: 0, canvasTop: 1045, plotLeft: 535.5, plotRight: 771.5, plotTop: 1171.4, plotBottom: 2055.5 },
  { title: "MBNL1", labels: MBNL1_labels, ridges: MBNL1_ridges, range: MBNL1_range, xBreaks: MBNL1_xBreaks, xTicks: MBNL1_xTicks, xTickLabels: MBNL1_xTickLabels, padj: MBNL1_padj,
    colLeft: 981, canvasTop: 1045, plotLeft: 1628, plotRight: 1799, plotTop: 1171.4, plotBottom: 2055.5 },
  { title: "NPCDR1", labels: NPCDR1_labels, ridges: NPCDR1_ridges, range: NPCDR1_range, xBreaks: NPCDR1_xBreaks, xTicks: NPCDR1_xTicks, xTickLabels: NPCDR1_xTickLabels, padj: NPCDR1_padj,
    colLeft: 1962, canvasTop: 1045, plotLeft: 2567, plotRight: 2793, plotTop: 1171.4, plotBottom: 2055.5 },
];

const near = (a: number, b: number) => Math.abs(a - b) < 1e-7;

const decorPlugin = {
  id: "panelDecor",
  afterDraw(chart: any, _args: any, opts: any) {
    const { ctx, chartArea: a } = chart;
    ctx.save();
    // panel border
    ctx.strokeStyle = "#333333";
    ctx.lineWidth = 1.6;
    ctx.strokeRect(a.left, a.top, a.right - a.left, a.bottom - a.top);
    // title
    ctx.fillStyle = "#000";
    ctx.font = `bold 32px ${FONT}`;
    ctx.textAlign = "center";
    ctx.textBaseline = "middle";
    ctx.fillText(opts.title, (a.left + a.right) / 2, a.top - 21);
    // colour-bar legend
    const bx = a.right + 27;
    const bw = 28;
    const bh = 139;
    const by = (a.top + a.bottom) / 2 - 57;
    ctx.font = `17px ${FONT}`;
    ctx.textAlign = "left";
    ctx.fillText("p.adjust", bx, by - 17);
    ctx.fillStyle = FILL;
    ctx.fillRect(bx, by, bw, bh);
    ctx.strokeStyle = "#fff";
    ctx.lineWidth = 1.5;
    const my = by + bh / 2;
    ctx.beginPath();
    ctx.moveTo(bx, my); ctx.lineTo(bx + 5.5, my);
    ctx.moveTo(bx + bw - 5.5, my); ctx.lineTo(bx + bw, my);
    ctx.stroke();
    ctx.fillStyle = "#000";
    ctx.font = `14px ${FONT}`;
    ctx.fillText(opts.padj, bx + bw + 10, my);
    ctx.restore();
  },
};

function RidgePanel({ p }: { p: any }) {
  const ref = useRef<HTMLCanvasElement | null>(null);
  useEffect(() => {
    const canvas = ref.current;
    if (!canvas) return;
    const N = p.labels.length;
    const [dMin, dMax] = p.range;
    const span = dMax - dMin;
    const xMin = dMin - 0.05 * span;
    const xMax = dMax + 0.05 * span;
    let yMax = N + 0.6;
    p.ridges.forEach((r: number[][], i: number) => {
      r.forEach(([, h]) => { yMax = Math.max(yMax, N - i + h); });
    });
    const datasets = p.ridges.map((r: number[][], i: number) => {
      const base = N - i;
      const pts: { x: number; y: number }[] = [];
      if (r[0][0] > dMin) pts.push({ x: dMin, y: base });
      r.forEach(([x, h]) => pts.push({ x, y: base + h }));
      if (r[r.length - 1][0] < dMax) pts.push({ x: dMax, y: base });
      return {
        label: p.labels[i],
        data: pts,
        borderColor: "#000",
        borderWidth: 3.8,
        borderJoinStyle: "round",
        backgroundColor: FILL,
        fill: { value: base },
        pointRadius: 0,
        tension: 0.4,
        cubicInterpolationMode: "monotone",
        order: N - 1 - i,
      };
    });
    const padTop = p.plotTop - p.canvasTop;
    const padRight = p.colLeft + COL_W - p.plotRight;
    const padBottom = p.canvasTop + ROW_CANVAS_H - p.plotBottom - XAXIS_H;
    const yW = p.plotLeft - p.colLeft;
    const chart = new Chart(canvas, {
      type: "line",
      data: { datasets },
      plugins: [decorPlugin],
      options: {
        animation: false,
        responsive: false,
        devicePixelRatio: 1,
        events: [],
        layout: { padding: { left: 0, right: padRight, top: padTop, bottom: padBottom } },
        plugins: {
          legend: { display: false },
          tooltip: { enabled: false },
          title: { display: false },
          panelDecor: { title: p.title, padj: p.padj },
        } as any,
        scales: {
          x: {
            type: "linear",
            min: xMin,
            max: xMax,
            afterBuildTicks: (s: any) => { s.ticks = p.xBreaks.map((v: number) => ({ value: v })); },
            afterFit: (s: any) => { s.height = XAXIS_H; },
            ticks: {
              autoSkip: false,
              maxRotation: 0,
              minRotation: 0,
              padding: 0,
              color: "#000",
              font: { family: FONT, size: 23 },
              callback: (v: any) => {
                const k = p.xTicks.findIndex((t: number) => near(t, Number(v)));
                return k >= 0 ? p.xTickLabels[k] : "";
              },
            },
            grid: {
              color: "#EBEBEB",
              lineWidth: 2.5,
              tickLength: 6,
              tickWidth: 2.2,
              tickColor: (c: any) => {
                const v = c.tick ? c.tick.value : NaN;
                return p.xTicks.some((t: number) => near(t, v)) ? "#333333" : "rgba(0,0,0,0)";
              },
            },
            border: { display: false },
          },
          y: {
            type: "linear",
            min: 0.4,
            max: yMax,
            afterBuildTicks: (s: any) => { s.ticks = p.labels.map((_: string, i: number) => ({ value: N - i })); },
            afterFit: (s: any) => { s.width = yW; },
            ticks: {
              autoSkip: false,
              padding: 6,
              color: "#000",
              font: { family: FONT, size: 22.5, lineHeight: 1.0 },
              callback: (v: any) => {
                const i = N - Math.round(Number(v));
                const l = p.labels[i];
                return l ? l.split("\n") : "";
              },
            },
            grid: {
              color: "#EBEBEB",
              lineWidth: 2.5,
              tickLength: 6,
              tickWidth: 2.4,
              tickColor: "#333333",
            },
            border: { display: false },
          },
        },
      } as any,
    });
    return () => chart.destroy();
  }, [p]);
  return (
    <canvas
      ref={ref}
      width={COL_W}
      height={ROW_CANVAS_H}
      style={{ position: "absolute", left: p.colLeft, top: p.canvasTop, width: COL_W, height: ROW_CANVAS_H }}
    />
  );
}

export default function App() {
  return (
    <div style={{ position: "absolute", left: 0, top: 0, width: PAGE_W, height: PAGE_H, background: "#fff", overflow: "hidden" }}>
      {PANELS.map((p) => (
        <RidgePanel key={p.title} p={p} />
      ))}
    </div>
  );
}
